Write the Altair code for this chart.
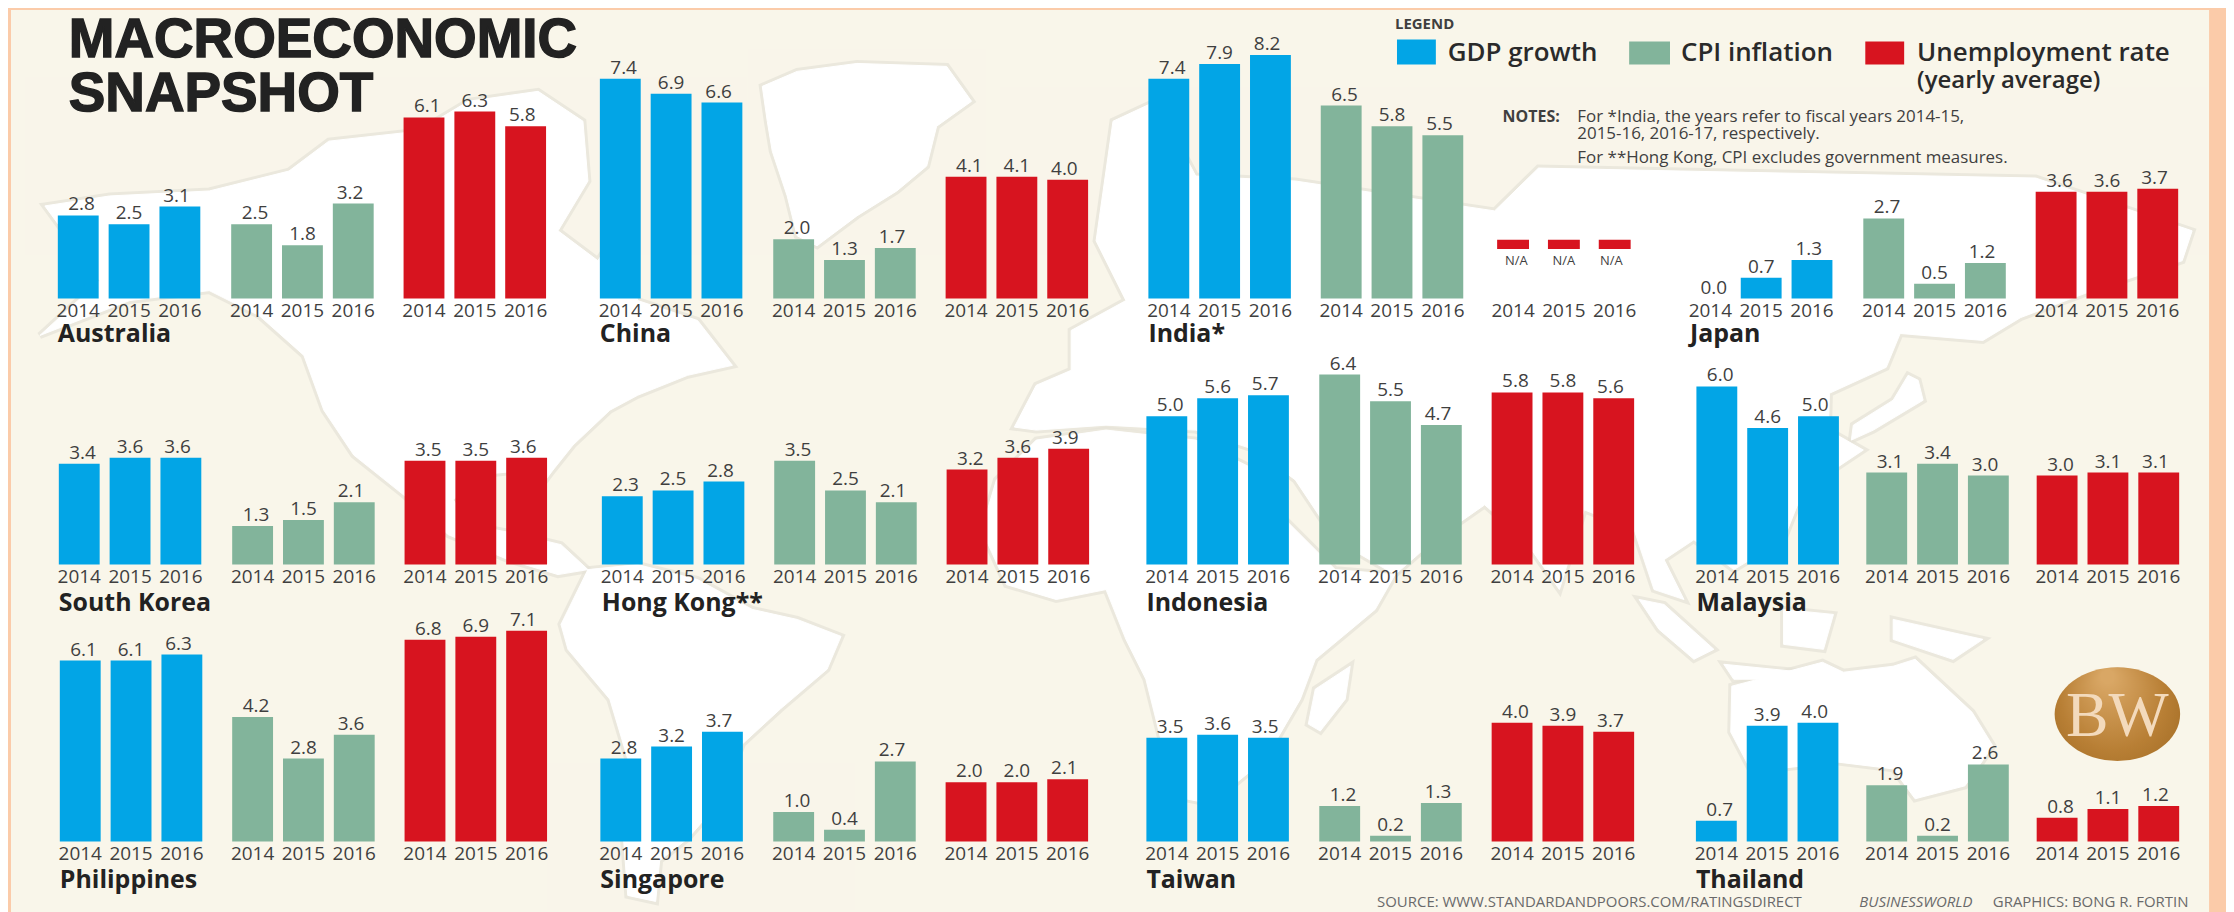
import altair as alt
import pandas as pd

YEARS = ["2014", "2015", "2016"]
COUNTRIES = ["Australia", "China", "India*", "Japan",
             "South Korea", "Hong Kong**", "Indonesia", "Malaysia",
             "Philippines", "Singapore", "Taiwan", "Thailand"]
GDP = [[2.8, 2.5, 3.1], [7.4, 6.9, 6.6], [7.4, 7.9, 8.2], [0.0, 0.7, 1.3],
       [3.4, 3.6, 3.6], [2.3, 2.5, 2.8], [5.0, 5.6, 5.7], [6.0, 4.6, 5.0],
       [6.1, 6.1, 6.3], [2.8, 3.2, 3.7], [3.5, 3.6, 3.5], [0.7, 3.9, 4.0]]
CPI = [[2.5, 1.8, 3.2], [2.0, 1.3, 1.7], [6.5, 5.8, 5.5], [2.7, 0.5, 1.2],
       [1.3, 1.5, 2.1], [3.5, 2.5, 2.1], [6.4, 5.5, 4.7], [3.1, 3.4, 3.0],
       [4.2, 2.8, 3.6], [1.0, 0.4, 2.7], [1.2, 0.2, 1.3], [1.9, 0.2, 2.6]]
UNEMP = [[6.1, 6.3, 5.8], [4.1, 4.1, 4.0], None, [3.6, 3.6, 3.7],
         [3.5, 3.5, 3.6], [3.2, 3.6, 3.9], [5.8, 5.8, 5.6], [3.0, 3.1, 3.1],
         [6.8, 6.9, 7.1], [2.0, 2.0, 2.1], [4.0, 3.9, 3.7], [0.8, 1.1, 1.2]]

BLUE, GREEN, RED = "#02A5E6", "#82B49B", "#D7141F"
CREAM, PEACH, INK = "#F9F6EA", "#FBCBA9", "#3F3F3F"
FONT = "Open Sans"
OFF = 8  # page margin
PER_UNIT = 29.8
STEP, BAR = 51, 41

# Layout: page-pixel left edge of each metric group, by country, and row baselines
LEFTS = [[58, 232, 405], [602, 776, 949], [1152.5, 1325.5, 1498], [1696, 1870, 2043],
         [59, 233, 406], [604, 777, 950], [1150.5, 1324, 1497], [1702.5, 1873, 2044],
         [60, 233, 406], [602.5, 776, 949], [1150.5, 1324, 1497], [1702, 1873, 2044]]
BASELINES = [298, 565, 843]
NAME_Y = [334, 604, 882]

# Decorative land outlines, page pixels
LAND = [
    [(45,205),(110,195),(210,190),(290,170),(330,140),(420,130),(470,100),(540,90),(585,120),(590,180),(560,230),(600,260),(620,230),(640,300),(700,320),(735,365),(690,375),(640,395),(612,410),(575,445),(555,470),(540,490),(530,470),(480,475),(455,500),(470,525),(513,533),(563,545),(590,570),(560,575),(510,560),(450,535),(405,495),(355,455),(325,410),(305,355),(260,315),(210,290),(130,300),(40,335),(100,280)],
    [(765,85),(800,70),(860,62),(950,65),(975,100),(940,125),(930,165),(900,190),(860,215),(820,245),(800,235),(790,195),(775,150),(770,120)],
    [(590,570),(640,565),(700,580),(755,610),(800,620),(844,637),(830,670),(783,710),(745,745),(725,800),(690,840),(662,862),(658,903),(630,897),(625,830),(630,760),(612,700),(570,650),(563,625)],
    [(1000,480),(1040,440),(1110,430),(1200,440),(1260,470),(1290,520),(1340,570),(1400,575),(1380,610),(1320,660),(1305,700),(1270,760),(1215,805),(1190,800),(1165,740),(1150,680),(1130,640),(1110,590),(1060,600),(1010,585),(985,530)],
    [(1018,427),(1040,385),(1075,370),(1075,330),(1130,300),(1100,240),(1117,120),(1160,100),(1200,175),(1300,180),(1500,210),(1544,167),(1687,170),(2043,177),(2200,230),(2190,260),(2100,290),(2028,317),(1990,340),(1907,333),(1893,367),(1836,393),(1835,430),(1870,450),(1810,490),(1790,540),(1740,570),(1700,540),(1670,560),(1690,600),(1660,590),(1640,530),(1590,510),(1565,590),(1530,540),(1490,505),(1440,540),(1400,575),(1340,540),(1300,480),(1260,450),(1200,430),(1110,425),(1040,430)],
    [(1925,380),(1930,400),(1880,430),(1858,440),(1860,425),(1900,400),(1915,375)],
    [(1645,600),(1670,605),(1720,650),(1700,660),(1665,630)],
    [(1790,610),(1840,615),(1830,650),(1790,645)],
    [(1730,665),(1800,672),(1820,680),(1740,680)],
    [(1900,620),(1990,640),(1960,660),(1900,640)],
    [(1738,687),(1829,663),(1850,673),(1900,667),(1922,660),(1979,713),(2000,747),(1972,787),(1922,800),(1900,770),(1843,763),(1758,773),(1737,733)],
    [(1355,667),(1350,700),(1325,732),(1313,725),(1320,690)],
]

# Text helper -------------------------------------------------------------
def txt(s, x, y, size, weight="normal", color=INK, font=FONT, align="left", style="normal", **extra):
    return alt.Chart(pd.DataFrame({"t": [s]})).mark_text(
        fontSize=size, fontWeight=weight, color=color, font=font, align=align,
        baseline="middle", fontStyle=style, **extra
    ).encode(x=alt.value(x - OFF), y=alt.value(y - OFF), text="t:N")

def box(x0, x1, y0, y1, color):
    return alt.Chart(pd.DataFrame({"a": [0]})).mark_rect(color=color).encode(
        x=alt.value(x0 - OFF), x2=alt.value(x1 - OFF),
        y=alt.value(y0 - OFF), y2=alt.value(y1 - OFF))

# Bars ---------------------------------------------------------------------
def scales(left, base):
    xs = alt.Scale(domain=YEARS, range=[left - OFF, left - OFF + 3 * STEP - (STEP - BAR)],
                   paddingInner=(STEP - BAR) / STEP, paddingOuter=0)
    ys = alt.Scale(domain=[0, 9], range=[base - OFF, base - OFF - 9 * PER_UNIT])
    return xs, ys

H = 904
def axis_for(base):
    return alt.Axis(title=None, orient="bottom", zindex=1, domain=False, ticks=False, grid=False,
                    labelAngle=0, labelFont=FONT, labelFontSize=19, labelColor=INK, labelPadding=3,
                    offset=-(H - (base - OFF)), labelOverlap=False)

def group(values, color, left, base):
    xs, ys = scales(left, base)
    df = pd.DataFrame({"year": YEARS, "value": values})
    bars = alt.Chart(df).mark_bar(color=color).encode(
        x=alt.X("year:N", scale=xs, axis=axis_for(base)),
        y=alt.Y("value:Q", scale=ys, axis=None))
    text = alt.Chart(df).mark_text(font=FONT, fontSize=19, color=INK, baseline="bottom", dy=-1).encode(
        x=alt.X("year:N", scale=xs, axis=None),
        y=alt.Y("value:Q", scale=ys, axis=None),
        text=alt.Text("value:Q", format=".1f"))
    return [bars, text]

def na_group(color, left, base):
    xs, ys = scales(left, base)
    df = pd.DataFrame({"year": YEARS, "low": [1.67] * 3, "high": [1.98] * 3, "lab": [1.27] * 3, "t": ["N/A"] * 3})
    bars = alt.Chart(df).mark_bar(color=color, size=32).encode(
        x=alt.X("year:N", scale=xs, axis=axis_for(base)),
        y=alt.Y("low:Q", scale=ys, axis=None), y2="high:Q")
    text = alt.Chart(df).mark_text(font=FONT, fontSize=13, color=INK).encode(
        x=alt.X("year:N", scale=xs, axis=None),
        y=alt.Y("lab:Q", scale=ys, axis=None), text="t:N")
    return [bars, text]

layers = [box(8, 2234, 0, 920, PEACH), box(11, 2217, 8.5, 920, CREAM)]

features = [{"type": "Feature", "properties": {}, "geometry": {"type": "Polygon",
             "coordinates": [[list(p) for p in poly] + [list(poly[0])]]}} for poly in LAND]
proj = dict(type="identity", scale=1, translate=[-OFF, -OFF])
layers.append(alt.Chart(alt.Data(values=features)).mark_geoshape(
    fill="#E6E3D8", stroke="#E6E3D8", strokeWidth=7, opacity=0.7).project(**proj))
layers.append(alt.Chart(alt.Data(values=features)).mark_geoshape(
    fill="#FFFFFF", stroke="#FFFFFF", strokeWidth=1).project(**proj))

for i, name in enumerate(COUNTRIES):
    row = i // 4
    base = BASELINES[row]
    l = LEFTS[i]
    layers += group(GDP[i], BLUE, l[0], base)
    layers += group(CPI[i], GREEN, l[1], base)
    layers += na_group(RED, l[2], base) if UNEMP[i] is None else group(UNEMP[i], RED, l[2], base)
    layers.append(txt(name, l[0], NAME_Y[row], 25, weight="bold", color="#222222"))

# Title, legend, notes, source, logo ---------------------------------------
layers += [
    txt("MACROECONOMIC", 69, 39, 55, weight="bold", color="#222222", font="Liberation Sans",
        stroke="#222222", strokeWidth=1.4),
    txt("SNAPSHOT", 69, 93, 55, weight="bold", color="#222222", font="Liberation Sans",
        stroke="#222222", strokeWidth=1.4),
    txt("LEGEND", 1400, 22, 15, weight="bold"),
    box(1402, 1441, 38, 63, BLUE), txt("GDP growth", 1453, 52, 26, weight=600, color="#2A2A2A"),
    box(1635, 1676, 40, 63, GREEN), txt("CPI inflation", 1687, 52, 26, weight=600, color="#2A2A2A"),
    box(1872, 1911, 40, 63, RED), txt("Unemployment rate", 1924, 52, 26, weight=600, color="#2A2A2A"),
    txt("(yearly average)", 1924, 80, 24, weight=600, color="#2A2A2A"),
    txt("NOTES:", 1508, 116, 16, weight="bold"),
    txt("For *India, the years refer to fiscal years 2014-15,", 1583, 116, 17),
    txt("2015-16, 2016-17, respectively.", 1583, 133, 17),
    txt("For **Hong Kong, CPI excludes government measures.", 1583, 157, 17),
    txt("SOURCE: WWW.STANDARDANDPOORS.COM/RATINGSDIRECT", 1382, 904, 15, color="#6A6A6A"),
    txt("BUSINESSWORLD", 1866, 904, 15, color="#6A6A6A", style="italic"),
    txt("GRAPHICS: BONG R. FORTIN", 2000, 904, 15, color="#6A6A6A"),
]
gold = {"gradient": "radial", "x1": 0.42, "y1": 0.2, "r1": 0.05, "x2": 0.5, "y2": 0.5, "r2": 0.72,
        "stops": [{"offset": 0, "color": "#D9A765"}, {"offset": 0.55, "color": "#B87F35"}, {"offset": 1, "color": "#9B6620"}]}
layers.append(alt.Chart(pd.DataFrame({"a": [0]})).mark_point(
    shape="M-1.34,0A1.34,1,0,1,1,1.34,0A1.34,1,0,1,1,-1.34,0Z", size=8836,
    filled=True, fill=gold, opacity=1, strokeWidth=0
).encode(x=alt.value(2125 - OFF), y=alt.value(715 - OFF)))
layers.append(txt("BW", 2125, 718, 64, color="#F3DABC", font="Liberation Serif", align="center"))

chart = alt.layer(*layers).resolve_scale(x="independent", y="independent").properties(
    width=2226, height=H, padding=0, background=PEACH,
    autosize=alt.AutoSizeParams(type="none")
).configure_view(strokeWidth=0)

chart.save("out.html", embed_options={"renderer": "svg", "actions": False})
